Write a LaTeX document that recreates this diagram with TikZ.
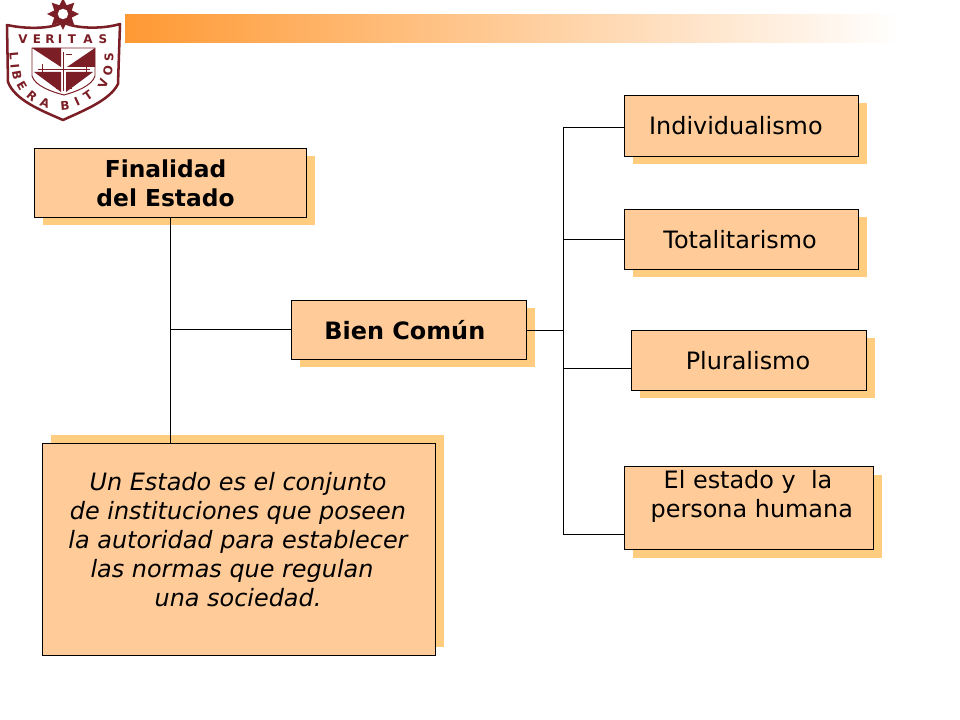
\documentclass[tikz,border=0pt]{standalone}
\usepackage{fontspec}
\setmainfont{DejaVu Sans}
\usetikzlibrary{shadows,positioning,shapes.geometric}
\definecolor{boxfill}{HTML}{FFCC99}
\definecolor{boxshadow}{HTML}{FFCC80}
\definecolor{barorange}{HTML}{FF9933}
\definecolor{logored}{HTML}{7B1E26}
\tikzset{
	px/.style={x=0.025cm,y=-0.025cm},
	plainbox/.style={draw=black,fill=boxfill,line width=0.6pt,align=center,font=\fontsize{17}{20.6}\selectfont,inner sep=0pt},
	box/.style={plainbox,drop shadow={shadow xshift=0.2cm,shadow yshift=-0.2cm,fill=boxshadow,opacity=1}},
	boxup/.style={plainbox,drop shadow={shadow xshift=0.2cm,shadow yshift=0.2cm,fill=boxshadow,opacity=1}},
	boxtext/.style={align=center,font=\fontsize{17}{20.6}\selectfont,inner sep=0pt},
	link/.style={draw=black,line width=0.6pt},
	logoletter/.style={text=logored,font=\fontsize{8.5}{9}\bfseries\selectfont,inner sep=0pt}
}
\begin{document}
\begin{tikzpicture}[px]
	\useasboundingbox (0,0) rectangle (960,720);
	% top bar
	\fill[left color=barorange,right color=white] (125,14.5) rectangle (900,43);
	% logo
	\node[star,star points=8,star point ratio=1.7,minimum size=0.8cm,fill=logored,inner sep=0pt] (logostar) at (63,14) {};
	\node[circle,fill=white,minimum size=0.26cm,inner sep=0pt] (logohole) at (63,14) {};
	\draw[logored,line width=1.8pt,line join=round] (7,25) .. controls (30,30) and (55,28) .. (63,22)
		.. controls (72,28) and (100,30) .. (120,24) -- (118,84) .. controls (110,100) and (85,110) .. (63,120)
		.. controls (40,110) and (15,100) .. (8,82) -- cycle;
	\draw[logored,line width=0.7pt] (32,48) -- (95,48) -- (95,76) .. controls (92,86) and (75,92) .. (64,95)
		.. controls (52,92) and (35,86) .. (32,76) -- cycle;
	\fill[logored] (32,48) -- (61,48) -- (61,67) -- cycle (95,48) -- (95,67) -- (67,67) -- cycle
		(34,72) -- (61,72) -- (61,92) -- cycle (66,72) -- (93,72) -- (66,92) -- cycle;
	\draw[white,line width=2pt] (63.5,50) -- (63.5,93) (36,69.5) -- (92,69.5);
	\draw[logored,line width=0.6pt] (61,54) -- (56,54) (66,54) -- (72,54) (61,88) -- (56,88) (66,88) -- (72,88)
		(42,64) -- (42,76) (86,64) -- (86,76) (63.5,52) -- (63.5,91) (38,69.5) -- (90,69.5);
	\foreach \ch/\xa/\ya/\ang [count=\i] in {V/23/39/0,E/37/39/0,R/50/39/0,I/60/39/0,T/72/39/0,A/88/39/0,S/103/39/0,
		L/14/56/-85,I/15/66/-85,B/17/75/-80,E/22/86/-60,R/32/96/-40,A/45/103/-20,B/65/106/5,I/77/102/25,T/88/96/35,
		V/103/84/70,O/108/71/80,S/109/57/90}
		\node[logoletter,rotate=\ang] (letter\i) at (\xa,\ya) {\ch};
	% boxes
	\node[box,minimum width=272*0.025cm,minimum height=69*0.025cm,font=\fontsize{16.6}{20.6}\bfseries\selectfont] (finalidad) at (170.5,183) {Finalidad\hspace*{7pt}\\del Estado\hspace*{7pt}};
	\node[box,minimum width=235*0.025cm,minimum height=59*0.025cm] (biencomun) at (409,330) {\bfseries Bien Común\ };
	\node[boxup,minimum width=393*0.025cm,minimum height=212*0.025cm] (unestado) at (239,549.5) {};
	\node[boxtext,font=\fontsize{17}{20.6}\itshape\selectfont] (unestadotext) at (238,540) {Un Estado es el conjunto\\de instituciones que poseen\\la autoridad para establecer\\\mbox{las normas que regulan\kern 8.5pt}\\una sociedad.};
	\node[box,minimum width=234*0.025cm,minimum height=61*0.025cm] (individualismo) at (741.5,126) {Individualismo\hspace*{8pt}};
	\node[box,minimum width=234*0.025cm,minimum height=60*0.025cm] (totalitarismo) at (741.5,239.5) {Totalitarismo\hspace*{2pt}};
	\node[box,minimum width=235*0.025cm,minimum height=60*0.025cm] (pluralismo) at (749,360.5) {Pluralismo\hspace*{1.5pt}};
	\node[box,minimum width=249*0.025cm,minimum height=83*0.025cm] (persona) at (749,508) {};
	\node[boxtext] (personatext) at (748,496) {El estado y\ \ la\\\ persona humana};
	% connectors
	\coordinate (joinleft) at (170,329);
	\coordinate (joinright) at (563,330);
	\coordinate (spinetop) at (563,127);
	\coordinate (spinebot) at (563,534);
	\coordinate (plural) at (563,368);
	\draw[link] (finalidad.south) -- (unestado.north -| finalidad.south);
	\draw[link] (joinleft) -- (joinleft -| biencomun.west);
	\draw[link] (biencomun.east) -- (joinright);
	\draw[link] (spinetop) -- (spinebot);
	\draw[link] (spinetop) -- (spinetop -| individualismo.west);
	\draw[link] (totalitarismo.west) -- (totalitarismo.west -| spinetop);
	\draw[link] (plural) -- (plural -| pluralismo.west);
	\draw[link] (spinebot) -- (spinebot -| persona.west);
\end{tikzpicture}
\end{document}
